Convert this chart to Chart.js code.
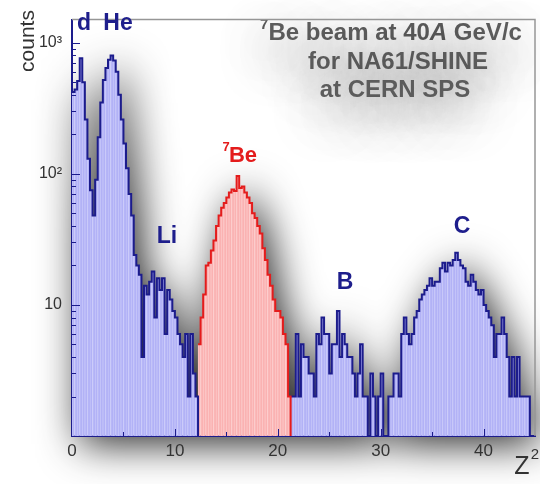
<!DOCTYPE html>
<html>
<head>
<meta charset="utf-8">
<script src="https://cdn.jsdelivr.net/npm/chart.js@4/dist/chart.umd.min.js"></script>
<style>
  html, body { margin: 0; padding: 0; background: #fff; }
  #c { display: block; }
</style>
</head>
<body>
<canvas id="c" width="540" height="484"></canvas>
<script>
// Z^2 histogram, bins of 0.25
const binWidth = 0.25;
const lightStart = 0;      // d, He, Li
const beStart = 12.25;     // 7Be (selected, red)
const heavyStart = 21.25;  // B, C

const lightCounts = [420, 440, 510, 760, 500, 260, 130, 75, 48, 90, 190, 350, 520, 640, 740, 800, 730, 600,
  400, 260, 170, 110, 70, 48, 24, 20, 17, 4, 14, 12, 15, 18, 8, 16, 13, 16, 6, 13, 11, 9, 8, 6, 5, 4, 6, 2, 6, 3, 2];
const beCounts = [5, 8, 12, 20, 21, 26, 31, 40, 48, 55, 60, 66, 72, 76, 74, 96, 78, 80, 72, 66, 60, 50, 46, 40,
  35, 27, 22, 17, 14, 11, 9, 9, 8, 6, 5, 2];
const heavyCounts = [2, 2, 6, 2, 5, 4, 4, 3, 3, 2, 6, 5, 8, 6, 6, 3, 5, 5, 9, 4, 6, 5, 4, 4, 3, 2, 3, 5, 2, 2,
  1, 3, 2, 1, 2, 3, 1, 1, 2, 2, 3, 3, 2, 6, 8, 6, 5, 6, 8, 9, 11, 12, 13, 14, 16, 14, 15, 15, 19, 21, 18, 21,
  20, 22, 25, 22, 20, 19, 15, 14, 17, 15, 13, 12, 13, 10, 9, 8, 7, 4, 6, 6, 8, 6, 4, 2, 4, 2, 4, 2, 2, 2, 2, 1, 1];

const yLabels = { 10: '10', 100: '10²', 1000: '10³' };

const blueFill = 'rgb(178,178,246)';
const blueStripe = 'rgb(196,196,249)';
const blueLine = 'rgb(28,28,140)';
const redFill = 'rgb(250,178,178)';
const redStripe = 'rgb(252,198,198)';
const redLine = 'rgb(228,28,28)';
const fontFam = '"Liberation Sans", Arial, sans-serif';

function centers(start, counts) {
  return counts.map((c, i) => ({ x: start + (i + 0.5) * binWidth, y: c }));
}
function edges(start, counts) {
  const pts = counts.map((c, i) => ({ x: start + i * binWidth, y: c }));
  pts.push({ x: start + counts.length * binWidth, y: 1 });
  return pts;
}

function stepPath(ctx, pts, base) {
  ctx.moveTo(pts[0].x, base);
  let prevY = base;
  pts.forEach(p => {
    ctx.lineTo(p.x, prevY);
    ctx.lineTo(p.x, p.y);
    prevY = p.y;
  });
  ctx.lineTo(pts[pts.length - 1].x, base);
  ctx.closePath();
}

function drawTitle(ctx) {
  ctx.fillStyle = '#5c5c5c';
  ctx.textBaseline = 'middle';
  const parts = [
    { t: '7', f: 'bold 15px ' + fontFam, dy: -8 },
    { t: 'Be beam at 40', f: 'bold 24px ' + fontFam, dy: 0 },
    { t: 'A', f: 'italic bold 24px ' + fontFam, dy: 0 },
    { t: ' GeV/c', f: 'bold 24px ' + fontFam, dy: 0 }
  ];
  let w = 0;
  parts.forEach(p => { ctx.font = p.f; w += ctx.measureText(p.t).width; });
  let x = 391 - w / 2;
  ctx.textAlign = 'left';
  parts.forEach(p => {
    ctx.font = p.f;
    ctx.fillText(p.t, x, 33 + p.dy);
    x += ctx.measureText(p.t).width;
  });
  ctx.textAlign = 'center';
  ctx.font = 'bold 24px ' + fontFam;
  ctx.fillText('for NA61/SHINE', 398, 62);
  ctx.fillText('at CERN SPS', 395, 90);
}

const decor = {
  id: 'decor',
  beforeDraw(chart) {
    const { ctx, chartArea: a } = chart;
    ctx.save();
    ctx.fillStyle = '#fff';
    ctx.fillRect(0, 0, chart.width, chart.height);
    // soft grey shadow behind the histogram
    ctx.shadowColor = 'rgba(0,0,0,0.85)';
    ctx.shadowBlur = 40;
    ctx.shadowOffsetX = 8;
    ctx.shadowOffsetY = 8;
    ctx.fillStyle = '#fff';
    ctx.beginPath();
    [3, 4, 5].forEach(i => stepPath(ctx, chart.getDatasetMeta(i).data, a.bottom));
    ctx.fill();
    // title with a soft glow below it
    ctx.shadowColor = 'rgba(0,0,0,0.7)';
    ctx.shadowBlur = 48;
    ctx.shadowOffsetX = 0;
    ctx.shadowOffsetY = 18;
    drawTitle(ctx);
    ctx.restore();
  },
  afterDraw(chart) {
    const { ctx, chartArea: a, scales: { x, y } } = chart;
    ctx.save();
    // frame top and right
    ctx.strokeStyle = 'rgb(150,150,150)';
    ctx.lineWidth = 1.5;
    ctx.beginPath();
    ctx.moveTo(a.left, a.top);
    ctx.lineTo(a.right, a.top);
    ctx.lineTo(a.right, a.bottom);
    ctx.stroke();
    // inner ticks
    ctx.strokeStyle = blueLine;
    ctx.lineWidth = 1;
    ctx.beginPath();
    for (let d = 1; d <= 1000; d *= 10) {
      for (let m = 1; m <= 9; m++) {
        const v = d * m;
        if (v > y.max || v <= 1) continue;
        const py = Math.round(y.getPixelForValue(v)) + 0.5;
        ctx.moveTo(a.left, py);
        ctx.lineTo(a.left + (m === 1 ? 8 : 4), py);
      }
    }
    for (let v = 5; v < x.max; v += 5) {
      const px = Math.round(x.getPixelForValue(v)) + 0.5;
      ctx.moveTo(px, a.bottom);
      ctx.lineTo(px, a.bottom - (v % 10 === 0 ? 7 : 4));
    }
    ctx.stroke();

    // peak labels
    ctx.textAlign = 'center';
    ctx.textBaseline = 'middle';
    ctx.font = 'bold 23px ' + fontFam;
    ctx.fillStyle = 'rgb(30,30,140)';
    ctx.fillText('d', 84, 24);
    ctx.fillText('He', 118, 24);
    ctx.fillText('Li', 167, 237);
    ctx.fillText('B', 345, 283);
    ctx.fillText('C', 462, 227);
    ctx.fillStyle = redLine;
    ctx.font = 'bold 22px ' + fontFam;
    ctx.fillText('Be', 243, 156);
    ctx.font = 'bold 13px ' + fontFam;
    ctx.fillText('7', 226, 147);

    // axis titles
    ctx.fillStyle = '#333';
    ctx.font = '21px ' + fontFam;
    ctx.save();
    ctx.translate(28, 41);
    ctx.rotate(-Math.PI / 2);
    ctx.fillText('counts', 0, 0);
    ctx.restore();
    ctx.font = '25px ' + fontFam;
    ctx.fillText('Z', 522, 467);
    ctx.font = '15px ' + fontFam;
    ctx.fillText('2', 535, 455);
    ctx.restore();
  }
};

const barDefaults = {
  type: 'bar', grouped: false, barPercentage: 1, categoryPercentage: 1,
  borderWidth: { left: 1, right: 0, top: 0, bottom: 0 }, borderSkipped: false, order: 2
};
const lineDefaults = { type: 'line', stepped: 'before', fill: false, pointRadius: 0, borderWidth: 2, order: 1 };

new Chart(document.getElementById('c'), {
  type: 'bar',
  data: {
    datasets: [
      { ...barDefaults, data: centers(lightStart, lightCounts), backgroundColor: blueFill, borderColor: blueStripe },
      { ...barDefaults, data: centers(beStart, beCounts), backgroundColor: redFill, borderColor: redStripe },
      { ...barDefaults, data: centers(heavyStart, heavyCounts), backgroundColor: blueFill, borderColor: blueStripe },
      { ...lineDefaults, data: edges(lightStart, lightCounts), borderColor: blueLine },
      { ...lineDefaults, data: edges(beStart, beCounts), borderColor: redLine },
      { ...lineDefaults, data: edges(heavyStart, heavyCounts), borderColor: blueLine }
    ]
  },
  options: {
    responsive: false,
    animation: false,
    layout: { padding: { top: 8, right: 2, left: 0, bottom: 0 } },
    plugins: { legend: { display: false }, tooltip: { enabled: false } },
    scales: {
      x: {
        type: 'linear',
        min: 0,
        max: 45,
        offset: false,
        grid: { display: false, drawTicks: false },
        border: { display: true, color: blueLine, width: 2 },
        ticks: {
          stepSize: 5,
          autoSkip: false,
          maxRotation: 0,
          padding: 5,
          color: '#333',
          font: { family: fontFam, size: 17 },
          callback: v => (v % 10 === 0 ? String(v) : '')
        },
        afterFit: s => { s.height = 48; }
      },
      y: {
        type: 'logarithmic',
        min: 1,
        max: 1500,
        grid: { display: false, drawTicks: false },
        border: { display: true, color: blueLine, width: 2 },
        ticks: {
          autoSkip: false,
          padding: 10,
          color: '#333',
          font: { family: fontFam, size: 16 },
          callback: v => yLabels[v] || ''
        },
        afterFit: s => { s.width = 72; }
      }
    }
  },
  plugins: [decor]
});
</script>
</body>
</html>
